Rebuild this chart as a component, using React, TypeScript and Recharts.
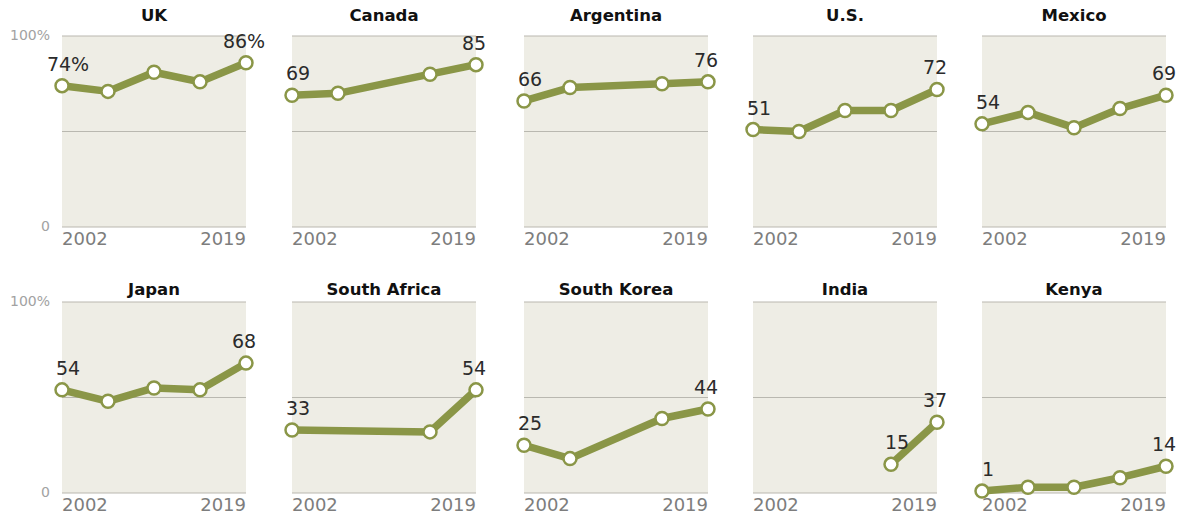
import { LineChart, Line, XAxis, YAxis, CartesianGrid, LabelList } from 'recharts';

const years = ['2002', '2007', '2013', '2017', '2019'];

const countries = [
  'UK', 'Canada', 'Argentina', 'U.S.', 'Mexico',
  'Japan', 'South Africa', 'South Korea', 'India', 'Kenya',
];

const ukValues = [74, 71, 81, 76, 86];
const canadaValues = [69, 70, null, 80, 85];
const argentinaValues = [66, 73, null, 75, 76];
const usValues = [51, 50, 61, 61, 72];
const mexicoValues = [54, 60, 52, 62, 69];
const japanValues = [54, 48, 55, 54, 68];
const southAfricaValues = [33, null, null, 32, 54];
const southKoreaValues = [25, 18, null, 39, 44];
const indiaValues = [null, null, null, 15, 37];
const kenyaValues = [1, 3, 3, 8, 14];

const seriesList = [
  ukValues, canadaValues, argentinaValues, usValues, mexicoValues,
  japanValues, southAfricaValues, southKoreaValues, indiaValues, kenyaValues,
];

const yTicks = [0, 50, 100];
const xTickYears = ['2002', '2019'];

const OLIVE = '#8a9647';
const BG = '#eeede5';
const GRID = '#b9b8b0';

const PLOT_W = 184;
const PLOT_H = 191;
const M_LEFT = 60;
const M_RIGHT = 30;
const M_TOP = 34;
const X_H = 28;

const colLefts = [62, 292, 524, 753, 982];
const rowTops = [36, 302];
const titleTops = [6, 280];

const XTick = ({ x, y, payload }: any) => {
  const first = payload.value === xTickYears[0];
  return (
    <text
      x={x}
      y={y + 10}
      textAnchor={first ? 'start' : 'end'}
      fill="#7d7d7d"
      fontSize={18}
      fontFamily="DejaVu Sans, sans-serif"
    >
      {payload.value}
    </text>
  );
};

const YTick = ({ x, y, payload, show }: any) => {
  if (!show || payload.value === 50) return <g />;
  return (
    <text
      x={x - 4}
      y={y + 4}
      textAnchor="end"
      fill="#a2a2a2"
      fontSize={14}
      fontFamily="DejaVu Sans, sans-serif"
    >
      {payload.value === 100 ? '100%' : '0'}
    </text>
  );
};

const Panel = ({ index }: { index: number }) => {
  const values = seriesList[index];
  const data = years.map((year, i) => ({ year, v: values[i] }));
  const present = values.map((v, i) => (v == null ? -1 : i)).filter((i) => i >= 0);
  const firstIdx = present[0];
  const lastIdx = present[present.length - 1];
  const withPct = index === 0;
  const col = index % 5;
  const row = Math.floor(index / 5);

  const renderLabel = (props: any) => {
    const { x, y, value, index: i } = props;
    if (value == null || (i !== firstIdx && i !== lastIdx)) return null;
    return (
      <text
        x={x + (i === firstIdx ? 6 : -2)}
        y={y - 15}
        textAnchor="middle"
        fill="#2b2b2b"
        fontSize={19}
        fontFamily="DejaVu Sans, sans-serif"
      >
        {withPct ? `${value}%` : value}
      </text>
    );
  };

  return (
    <>
      <div
        style={{
          position: 'absolute',
          left: colLefts[col],
          width: PLOT_W,
          top: titleTops[row],
          textAlign: 'center',
          fontFamily: 'DejaVu Sans, sans-serif',
          fontWeight: 'bold',
          fontSize: 16.5,
          lineHeight: '20px',
          color: '#111',
        }}
      >
        {countries[index]}
      </div>
      <div
        style={{
          position: 'absolute',
          left: colLefts[col] - M_LEFT,
          top: rowTops[row] - M_TOP,
        }}
      >
        <LineChart
          width={PLOT_W + M_LEFT + M_RIGHT}
          height={PLOT_H + M_TOP + X_H}
          data={data}
          margin={{ top: M_TOP, right: M_RIGHT, bottom: 0, left: 0 }}
          style={{ overflow: 'visible' }}
        >
          <CartesianGrid fill={BG} stroke={GRID} strokeWidth={1.2} vertical={false} />
          <XAxis
            dataKey="year"
            ticks={xTickYears}
            interval={0}
            axisLine={false}
            tickLine={false}
            tick={<XTick />}
            height={X_H}
          />
          <YAxis
            domain={[0, 100]}
            ticks={yTicks}
            width={M_LEFT}
            axisLine={false}
            tickLine={false}
            tick={<YTick show={col === 0} />}
          />
          <Line
            dataKey="v"
            stroke={OLIVE}
            strokeWidth={7.5}
            strokeLinejoin="round"
            connectNulls
            isAnimationActive={false}
            dot={{ r: 6.5, fill: '#fff', stroke: OLIVE, strokeWidth: 2.5 }}
          >
            <LabelList dataKey="v" content={renderLabel} />
          </Line>
        </LineChart>
      </div>
    </>
  );
};

export default function App() {
  return (
    <div style={{ position: 'absolute', left: 0, top: 0, width: 1186, height: 516, background: '#fff' }}>
      {countries.map((_, i) => (
        <Panel key={i} index={i} />
      ))}
    </div>
  );
}
